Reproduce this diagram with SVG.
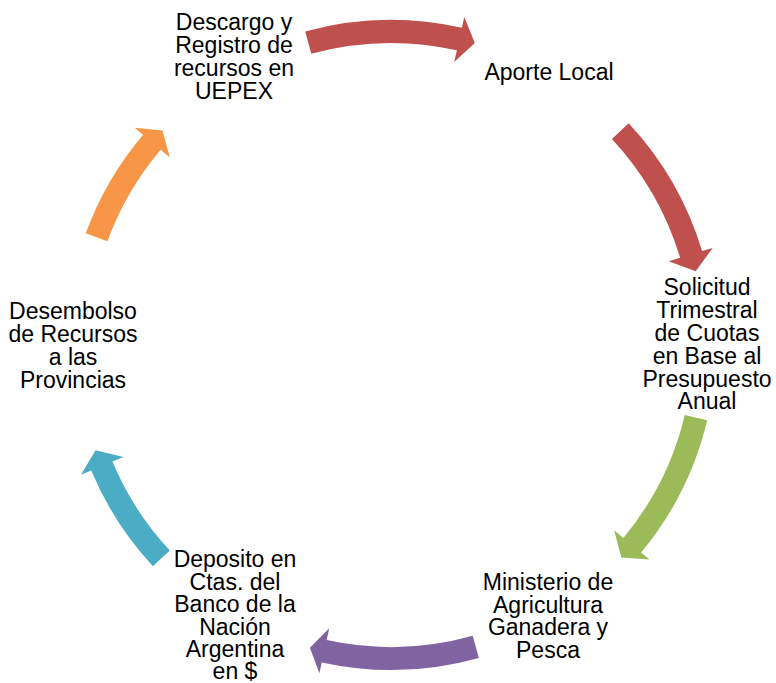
<svg xmlns="http://www.w3.org/2000/svg" width="776" height="683" viewBox="0 0 776 683">
<style>
.t{font-family:"Liberation Sans",Arial,sans-serif;font-size:23px;fill:#000;text-anchor:middle}
</style>
<rect width="776" height="683" fill="#fff"/>
<g id="connectors">
<path id="arrow-top" fill="#C0504D" d="M305.2,31.5 A325,325 0 0 1 461.9,27.8 L464.3,17.1 L474.8,42.9 L454.2,62.0 L456.9,50.3 A302,302 0 0 0 311.3,53.7 Z"/>
<path id="arrow-right-top" fill="#C0504D" d="M628.7,123.3 A325,325 0 0 1 702.1,251.1 L712.7,247.9 L695.7,271.3 L668.6,261.2 L680.1,257.7 A302,302 0 0 0 611.9,139.0 Z"/>
<path id="arrow-right-bottom" fill="#9BBB59" d="M707.2,420.3 A325,325 0 0 1 641.1,552.6 L649.5,559.6 L621.4,557.6 L614.1,530.3 L623.4,537.9 A302,302 0 0 0 684.8,415.0 Z"/>
<path id="arrow-bottom" fill="#8064A2" d="M478.9,657.9 A325,325 0 0 1 321.8,662.5 L319.4,673.3 L309.9,647.8 L329.2,628.3 L326.7,640.1 A302,302 0 0 0 472.7,635.7 Z"/>
<path id="arrow-left-bottom" fill="#4BACC6" d="M152.9,566.2 A325,325 0 0 1 91.2,470.4 L81.0,474.7 L95.6,450.2 L123.5,456.9 L112.4,461.5 A302,302 0 0 0 169.8,550.6 Z"/>
<path id="arrow-left-top" fill="#F79646" d="M85.8,233.3 A325,325 0 0 1 143.1,134.8 L134.7,127.7 L162.5,130.4 L169.8,157.4 L160.7,149.7 A302,302 0 0 0 107.4,241.2 Z"/>
</g>
<g id="node-descargo">
<text class="t" x="234" y="30">Descargo y</text>
<text class="t" x="234" y="53">Registro de</text>
<text class="t" x="234" y="76">recursos en</text>
<text class="t" x="234" y="99">UEPEX</text>
</g>
<g id="node-aporte">
<text class="t" x="549" y="80">Aporte Local</text>
</g>
<g id="node-solicitud">
<text class="t" x="707" y="295">Solicitud</text>
<text class="t" x="707" y="318">Trimestral</text>
<text class="t" x="707" y="341">de Cuotas</text>
<text class="t" x="707" y="364">en Base al</text>
<text class="t" x="707" y="386.5">Presupuesto</text>
<text class="t" x="707" y="409">Anual</text>
</g>
<g id="node-ministerio">
<text class="t" x="548" y="590">Ministerio de</text>
<text class="t" x="548" y="612.5">Agricultura</text>
<text class="t" x="548" y="635">Ganadera y</text>
<text class="t" x="548" y="657.5">Pesca</text>
</g>
<g id="node-deposito">
<text class="t" x="235" y="567">Deposito en</text>
<text class="t" x="235" y="589.5">Ctas. del</text>
<text class="t" x="235" y="612">Banco de la</text>
<text class="t" x="235" y="634.5">Nación</text>
<text class="t" x="235" y="657">Argentina</text>
<text class="t" x="235" y="679">en $</text>
</g>
<g id="node-desembolso">
<text class="t" x="73" y="319">Desembolso</text>
<text class="t" x="73" y="342">de Recursos</text>
<text class="t" x="73" y="365">a las</text>
<text class="t" x="73" y="388">Provincias</text>
</g>
</svg>
